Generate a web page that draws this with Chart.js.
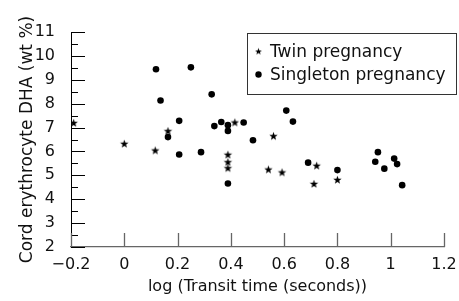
<!DOCTYPE html>
<html>
<head>
<meta charset="utf-8">
<script src="https://cdn.jsdelivr.net/npm/chart.js@4/dist/chart.umd.min.js"></script>
<style>
html, body { margin: 0; padding: 0; background: #fff; }
#wrap { width: 459px; height: 301px; }
</style>
</head>
<body>
<div id="wrap"><canvas id="dhaChart"></canvas></div>
<script>
// values: x = log transit time (s), y = DHA wt %
const twinTransit = [-0.19, 0.00, 0.116, 0.164, 0.389, 0.389, 0.389, 0.415, 0.541, 0.56, 0.592, 0.712, 0.722, 0.80];
const twinDha = [7.21, 6.34, 6.06, 6.87, 5.88, 5.57, 5.32, 7.23, 5.26, 6.66, 5.14, 4.66, 5.42, 4.83];

const singletonTransit = [0.119, 0.136, 0.164, 0.206, 0.206, 0.25, 0.288, 0.328, 0.338, 0.364, 0.389, 0.389, 0.389,
    0.448, 0.483, 0.608, 0.633, 0.69, 0.80, 0.942, 0.952, 0.976, 1.013, 1.024, 1.043];
const singletonDha = [9.44, 8.13, 6.60, 7.28, 5.87, 9.52, 5.97, 8.39, 7.06, 7.23, 7.10, 6.86, 4.66,
    7.21, 6.47, 7.71, 7.25, 5.53, 5.22, 5.57, 5.97, 5.28, 5.70, 5.47, 4.59];

const xTicks = [-0.2, 0, 0.2, 0.4, 0.6, 0.8, 1, 1.2];
const yTicks = [2, 3, 4, 5, 6, 7, 8, 9, 10, 11];

const FONT = 'DejaVu Sans';
const INK = '#111';

function makeStar(size, outer, inner) {
    const c = document.createElement('canvas');
    c.width = size;
    c.height = size;
    const g = c.getContext('2d');
    g.fillStyle = '#000';
    g.beginPath();
    for (let i = 0; i < 10; i++) {
        const r = i % 2 ? inner : outer;
        const a = -Math.PI / 2 + i * Math.PI / 5;
        const px = size / 2 + r * Math.cos(a);
        const py = size / 2 + 0.6 + r * Math.sin(a);
        if (i === 0) g.moveTo(px, py); else g.lineTo(px, py);
    }
    g.closePath();
    g.fill();
    return c;
}

const starMark = makeStar(11, 4.4, 1.8);
const legendStar = makeStar(9, 3.6, 1.5);

const toPoints = (xs, ys) => xs.map((x, i) => ({ x, y: ys[i] }));

// tick marks point into the plot, so they are drawn here
const innerTicks = {
    id: 'innerTicks',
    afterDatasetsDraw(chart) {
        const { ctx, scales: { x, y }, chartArea: a } = chart;
        ctx.save();
        ctx.lineWidth = 1;
        ctx.strokeStyle = '#000';
        ctx.beginPath();
        yTicks.forEach((v, i) => {
            const py = Math.round(y.getPixelForValue(v)) + 0.5;
            ctx.moveTo(a.left, py);
            ctx.lineTo(a.left + 14, py);
            if (i < yTicks.length - 1) {
                const pm = Math.round(y.getPixelForValue(v + 0.5)) + 0.5;
                ctx.moveTo(a.left, pm);
                ctx.lineTo(a.left + 7, pm);
            }
        });
        ctx.stroke();
        ctx.strokeStyle = '#666';
        ctx.lineWidth = 1.3;
        ctx.beginPath();
        xTicks.forEach(v => {
            const px = Math.round(x.getPixelForValue(v)) + 0.5;
            ctx.moveTo(px, a.bottom);
            ctx.lineTo(px, a.bottom - 14);
        });
        ctx.stroke();
        ctx.restore();
    }
};

const boxedLegend = {
    id: 'boxedLegend',
    afterDraw(chart) {
        const ctx = chart.ctx;
        const bx = 247.5, by = 33.5, bw = 209, bh = 61;
        ctx.save();
        ctx.strokeStyle = '#333';
        ctx.lineWidth = 1;
        ctx.strokeRect(bx, by, bw, bh);
        ctx.font = `17px "${FONT}"`;
        ctx.textBaseline = 'middle';
        chart.data.datasets.forEach((ds, i) => {
            const cy = by + 18 + i * 23.5;
            ctx.fillStyle = '#000';
            if (ds.pointStyle === 'circle') {
                ctx.beginPath();
                ctx.arc(258.5, cy - 0.5, 3.2, 0, Math.PI * 2);
                ctx.fill();
            } else {
                ctx.drawImage(legendStar, 254, cy - 5);
            }
            ctx.fillStyle = INK;
            ctx.fillText(ds.label, 270, cy + 1);
        });
        ctx.restore();
    }
};

new Chart(document.getElementById('dhaChart'), {
    type: 'scatter',
    data: {
        datasets: [{
            label: 'Twin pregnancy',
            data: toPoints(twinTransit, twinDha),
            pointStyle: starMark,
            pointRadius: 4,
            backgroundColor: '#000',
            borderColor: '#000'
        }, {
            label: 'Singleton pregnancy',
            data: toPoints(singletonTransit, singletonDha),
            pointStyle: 'circle',
            pointRadius: 3.3,
            borderWidth: 0,
            backgroundColor: '#000',
            borderColor: '#000'
        }]
    },
    options: {
        responsive: true,
        maintainAspectRatio: false,
        animation: false,
        layout: { padding: { top: 32, right: 15, left: 0, bottom: 0 } },
        plugins: {
            legend: { display: false },
            tooltip: { enabled: false }
        },
        scales: {
            x: {
                type: 'linear',
                min: -0.2,
                max: 1.2,
                afterBuildTicks: s => { s.ticks = xTicks.map(v => ({ value: v })); },
                afterFit: s => { s.height = 54; },
                grid: { display: false },
                border: { display: true, color: '#666', width: 1.3 },
                ticks: {
                    padding: 0,
                    color: INK,
                    font: { family: FONT, size: 16 },
                    maxRotation: 0,
                    callback: v => String(v).replace('-', '\u2212')
                },
                title: {
                    display: true,
                    text: 'log (Transit time (seconds))',
                    color: INK,
                    font: { family: FONT, size: 16 },
                    padding: { top: 0, bottom: 5 }
                }
            },
            y: {
                type: 'linear',
                min: 2,
                max: 11,
                afterBuildTicks: s => { s.ticks = yTicks.map(v => ({ value: v })); },
                afterFit: s => { s.width = 71; },
                grid: { display: false },
                border: { display: true, color: '#000', width: 1 },
                ticks: {
                    padding: 8,
                    color: INK,
                    font: { family: FONT, size: 16 }
                },
                title: {
                    display: true,
                    text: 'Cord erythrocyte DHA (wt %)',
                    color: INK,
                    font: { family: FONT, size: 17 },
                    padding: { top: 17, bottom: 0 }
                }
            }
        }
    },
    plugins: [innerTicks, boxedLegend]
});
</script>
</body>
</html>
